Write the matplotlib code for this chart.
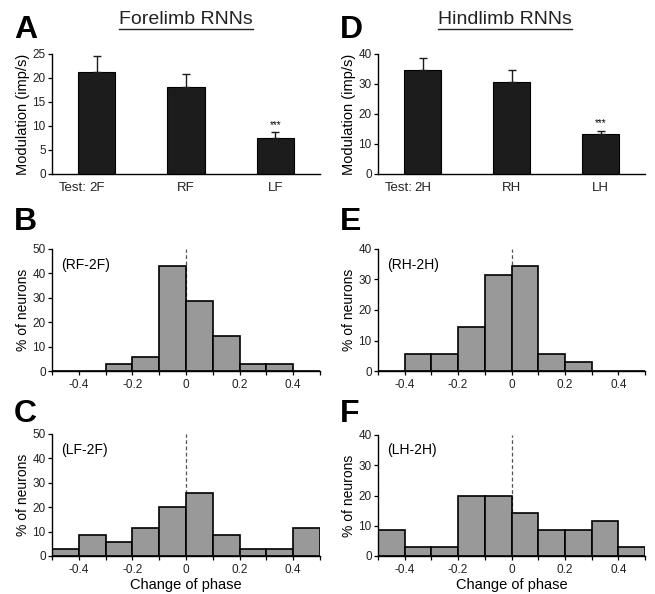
import numpy as np
import matplotlib
matplotlib.use('Agg')
import matplotlib.pyplot as plt

plt.rcParams['font.family'] = ['Liberation Sans', 'DejaVu Sans']

# bar panels (A, D)
fore_labels = ['2F', 'RF', 'LF']
fore_mean = [21.3, 18.1, 7.6]
fore_err = [3.3, 2.8, 1.1]
hind_labels = ['2H', 'RH', 'LH']
hind_mean = [34.6, 30.7, 13.2]
hind_err = [4.0, 4.1, 1.2]

# histogram panels (B, C, E, F): % of neurons per 0.1 bin from -0.5 to 0.5
bin_edges = [-0.5, -0.4, -0.3, -0.2, -0.1, 0.0, 0.1, 0.2, 0.3, 0.4, 0.5]
hist_B = [0, 0, 2.86, 5.71, 42.86, 28.57, 14.29, 2.86, 2.86, 0]
hist_C = [2.86, 8.57, 5.71, 11.43, 20.0, 25.71, 8.57, 2.86, 2.86, 11.43]
hist_E = [0, 5.71, 5.71, 14.29, 31.43, 34.29, 5.71, 2.86, 0, 0]
hist_F = [8.57, 2.86, 2.86, 20.0, 20.0, 14.29, 8.57, 8.57, 11.43, 2.86]

W, H = 655, 594
fig = plt.figure(figsize=(W / 100, H / 100), dpi=100)


def px_axes(l, t, r, b):
    return fig.add_axes([l / W, 1 - b / H, (r - l) / W, (b - t) / H])


def style(ax):
    for s in ['top', 'right']:
        ax.spines[s].set_visible(False)
    for s in ['left', 'bottom']:
        ax.spines[s].set_linewidth(1.0)
    ax.tick_params(axis='both', labelsize=8.5, length=3, width=0.9,
                   direction='out', colors='black', labelcolor='#222222', pad=1.5)


def bar_panel(ax, labels, mean, err, ymax, yticks):
    style(ax)
    x = np.arange(len(labels))
    ax.bar(x, mean, width=0.42, color='#1c1c1c', edgecolor='black', lw=0.8,
           yerr=[[0] * len(err), err], capsize=3,
           error_kw=dict(ecolor='#1c1c1c', elinewidth=1.0, capthick=1.0))
    ax.set_xlim(-0.5, 2.5)
    ax.set_ylim(0, ymax)
    ax.set_yticks(yticks)
    ax.set_xticks(x)
    ax.set_xticklabels(labels)
    ax.tick_params(axis='x', length=0, pad=6, labelsize=9.5)
    ax.set_ylabel('Modulation (imp/s)', fontsize=10.5, labelpad=2)
    ax.text(x[0] - 0.11, -0.069, 'Test:', transform=ax.get_xaxis_transform(),
            ha='right', va='top', fontsize=9.5, color='#222222')
    ax.text(x[2], mean[2] + err[2] + ymax * 0.02, '***', ha='center',
            va='bottom', fontsize=7)


def hist_panel(ax, vals, ymax, yticks, tag, xlabel):
    style(ax)
    edges = np.array(bin_edges)
    ax.axvline(0, color='#555555', ls='--', lw=0.9, dashes=(3, 2), zorder=1)
    ax.bar(edges[:-1], vals, width=np.diff(edges), align='edge',
           color='#999999', edgecolor='black', lw=1.2, zorder=2)
    ax.set_xlim(-0.5, 0.5)
    ax.set_ylim(0, ymax)
    ax.set_yticks(yticks)
    ax.set_xticks([-0.4, -0.2, 0, 0.2, 0.4])
    ax.set_xticklabels(['-0.4', '-0.2', '0', '0.2', '0.4'])
    ax.set_xticks(edges, minor=True)
    ax.set_ylabel('% of neurons', fontsize=10, labelpad=2)
    ax.text(0.035, 0.93, tag, transform=ax.transAxes, ha='left', va='top',
            fontsize=10)
    ax.tick_params(axis='x', which='minor', length=3, width=0.9, direction='out')
    ax.tick_params(axis='x', which='major', length=3, pad=3)
    if xlabel:
        ax.set_xlabel('Change of phase', fontsize=10.5, labelpad=1)


axA = px_axes(52, 54, 320, 174)
bar_panel(axA, fore_labels, fore_mean, fore_err, 25, [0, 5, 10, 15, 20, 25])
axD = px_axes(378, 54, 645, 174)
bar_panel(axD, hind_labels, hind_mean, hind_err, 40, [0, 10, 20, 30, 40])

axB = px_axes(52, 249, 320, 371)
hist_panel(axB, hist_B, 50, [0, 10, 20, 30, 40, 50], '(RF-2F)', False)
axC = px_axes(52, 434, 320, 556)
hist_panel(axC, hist_C, 50, [0, 10, 20, 30, 40, 50], '(LF-2F)', True)
axE = px_axes(378, 249, 645, 371)
hist_panel(axE, hist_E, 40, [0, 10, 20, 30, 40], '(RH-2H)', False)
axF = px_axes(378, 435, 645, 556)
hist_panel(axF, hist_F, 40, [0, 10, 20, 30, 40], '(LH-2H)', True)

# titles with underline
fig.canvas.draw()
for cx, title in [(186, 'Forelimb RNNs'), (505, 'Hindlimb RNNs')]:
    t = fig.text(cx / W, 1 - 19 / H, title, ha='center', va='center',
                 fontsize=14, color='#222222')
    bb = t.get_window_extent(renderer=fig.canvas.get_renderer())
    y = (bb.y0 - 1) / H
    fig.add_artist(plt.Line2D([bb.x0 / W, bb.x1 / W], [y, y], color='#222222',
                              lw=1.0, transform=fig.transFigure))

# panel letters
for lx, ly, letter in [(14, 30, 'A'), (14, 222, 'B'), (14, 414, 'C'),
                       (340, 30, 'D'), (340, 222, 'E'), (340, 414, 'F')]:
    fig.text(lx / W, 1 - ly / H, letter, ha='left', va='center',
             fontsize=23, fontweight='bold')

fig.savefig('out.png', dpi=100)
